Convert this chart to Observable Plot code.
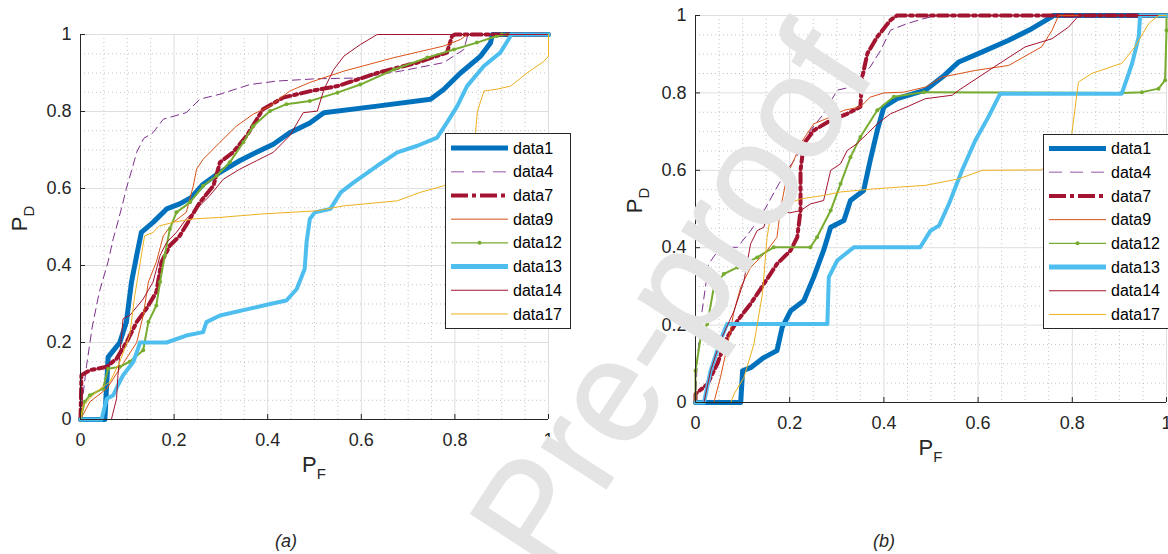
<!DOCTYPE html>
<html><head><meta charset="utf-8">
<script src="https://cdn.jsdelivr.net/npm/d3@7"></script>
<script src="https://cdn.jsdelivr.net/npm/@observablehq/plot@0.6"></script>
<style>
body{margin:0;background:#fff;}
#wrap{position:relative;width:1168px;height:554px;overflow:hidden;font-family:"Liberation Sans",Arial,sans-serif;background:#fff;}
#wrap > svg{position:absolute;top:0;}
</style></head><body><div id="wrap"></div>
<script>
// ---------- data ----------
const seriesNames = ["data1","data4","data7","data9","data12","data13","data14","data17"];
const majorTicks = [0, 0.2, 0.4, 0.6, 0.8, 1];
const tickLabels = ["0","0.2","0.4","0.6","0.8","1"];
const minorTicks = [0.05,0.1,0.15,0.25,0.3,0.35,0.45,0.5,0.55,0.65,0.7,0.75,0.85,0.9,0.95];

// panel (a)
const a_data1 = [[0,0],[0.052,0],[0.059,0.162],[0.084,0.2],[0.098,0.253],[0.109,0.357],[0.12,0.426],[0.13,0.486],[0.155,0.512],[0.184,0.547],[0.212,0.56],[0.237,0.577],[0.262,0.611],[0.298,0.642],[0.34,0.672],[0.376,0.694],[0.412,0.715],[0.447,0.745],[0.49,0.77],[0.52,0.797],[0.634,0.814],[0.748,0.832],[0.776,0.857],[0.812,0.9],[0.855,0.944],[0.876,0.978],[0.88,1],[1,1]];
const a_data4 = [[0,0],[0.005,0.06],[0.013,0.14],[0.025,0.24],[0.04,0.33],[0.059,0.41],[0.07,0.47],[0.077,0.5],[0.09,0.56],[0.098,0.6],[0.11,0.65],[0.12,0.694],[0.135,0.73],[0.155,0.745],[0.177,0.78],[0.226,0.797],[0.255,0.832],[0.298,0.845],[0.362,0.87],[0.419,0.879],[0.504,0.885],[0.591,0.887],[0.684,0.905],[0.776,0.927],[0.819,0.961],[0.828,1],[1,1]];
const a_data7 = [[0,0],[0.002,0.115],[0.02,0.128],[0.056,0.137],[0.077,0.158],[0.098,0.2],[0.12,0.253],[0.141,0.288],[0.162,0.331],[0.173,0.409],[0.191,0.452],[0.212,0.477],[0.234,0.521],[0.255,0.564],[0.284,0.607],[0.298,0.668],[0.326,0.694],[0.355,0.737],[0.39,0.806],[0.433,0.836],[0.491,0.853],[0.549,0.866],[0.634,0.9],[0.72,0.927],[0.783,0.953],[0.794,0.996],[0.8,1],[1,1]];
const a_data9 = [[0,0],[0.02,0.046],[0.056,0.08],[0.084,0.132],[0.12,0.2],[0.134,0.27],[0.145,0.357],[0.162,0.409],[0.177,0.477],[0.198,0.512],[0.226,0.538],[0.241,0.607],[0.248,0.65],[0.262,0.676],[0.298,0.72],[0.333,0.762],[0.369,0.793],[0.405,0.814],[0.447,0.853],[0.491,0.876],[0.563,0.905],[0.67,0.94],[0.776,0.97],[0.812,0.987],[0.826,1],[1,1]];
const a_data12 = [[0,0],[0.009,0.046],[0.02,0.063],[0.048,0.08],[0.059,0.132],[0.084,0.137],[0.105,0.15],[0.134,0.18],[0.137,0.2],[0.145,0.253],[0.162,0.296],[0.17,0.357],[0.18,0.426],[0.191,0.495],[0.205,0.538],[0.234,0.564],[0.262,0.607],[0.291,0.633],[0.319,0.668],[0.348,0.72],[0.369,0.762],[0.405,0.801],[0.44,0.819],[0.49,0.827],[0.549,0.849],[0.598,0.87],[0.67,0.909],[0.741,0.94],[0.798,0.961],[0.847,0.979],[0.89,0.996],[0.9,1],[1,1]];
const a_data13 = [[0,0],[0.045,0],[0.056,0.054],[0.07,0.063],[0.08,0.089],[0.091,0.115],[0.113,0.15],[0.123,0.184],[0.127,0.2],[0.184,0.2],[0.226,0.218],[0.262,0.227],[0.269,0.253],[0.298,0.27],[0.362,0.288],[0.405,0.3],[0.44,0.309],[0.462,0.339],[0.479,0.391],[0.483,0.46],[0.49,0.521],[0.501,0.538],[0.534,0.547],[0.556,0.59],[0.584,0.616],[0.634,0.659],[0.677,0.694],[0.72,0.711],[0.762,0.732],[0.783,0.771],[0.805,0.814],[0.826,0.866],[0.862,0.918],[0.897,0.953],[0.919,0.996],[0.92,1],[1,1]];
const a_data14 = [[0,0],[0.066,0],[0.077,0.054],[0.08,0.115],[0.091,0.262],[0.105,0.27],[0.134,0.313],[0.155,0.357],[0.17,0.426],[0.184,0.46],[0.205,0.486],[0.226,0.521],[0.248,0.547],[0.276,0.581],[0.305,0.624],[0.34,0.65],[0.376,0.672],[0.412,0.694],[0.447,0.737],[0.476,0.797],[0.506,0.801],[0.52,0.857],[0.541,0.909],[0.563,0.944],[0.598,0.974],[0.634,1],[1,1]];
const a_data17 = [[0,0],[0.006,0.037],[0.034,0.072],[0.063,0.098],[0.084,0.15],[0.105,0.218],[0.116,0.322],[0.13,0.426],[0.137,0.477],[0.155,0.486],[0.169,0.503],[0.198,0.512],[0.241,0.521],[0.298,0.525],[0.39,0.534],[0.504,0.542],[0.563,0.555],[0.677,0.568],[0.726,0.59],[0.776,0.607],[0.81,0.64],[0.835,0.69],[0.844,0.745],[0.848,0.8],[0.862,0.853],[0.89,0.858],[0.919,0.866],[0.954,0.9],[0.99,0.93],[1,0.944],[1,1]];

// panel (b)
const b_data1 = [[0,0],[0.096,0],[0.1,0.082],[0.117,0.09],[0.145,0.116],[0.173,0.134],[0.184,0.194],[0.202,0.237],[0.23,0.263],[0.251,0.324],[0.272,0.393],[0.287,0.453],[0.315,0.47],[0.329,0.522],[0.357,0.548],[0.371,0.626],[0.386,0.703],[0.4,0.764],[0.428,0.785],[0.488,0.807],[0.524,0.841],[0.559,0.88],[0.609,0.906],[0.665,0.936],[0.714,0.966],[0.757,0.997],[0.76,1],[1,1]];
const b_data4 = [[0,0],[0.004,0.116],[0.014,0.237],[0.028,0.358],[0.053,0.401],[0.089,0.401],[0.117,0.444],[0.138,0.479],[0.177,0.565],[0.195,0.6],[0.223,0.651],[0.244,0.703],[0.272,0.746],[0.301,0.807],[0.329,0.815],[0.35,0.841],[0.371,0.867],[0.393,0.91],[0.414,0.962],[0.449,0.979],[0.485,0.992],[0.513,1],[1,1]];
const b_data7 = [[0,0],[0,0.022],[0.025,0.047],[0.046,0.099],[0.067,0.168],[0.089,0.211],[0.117,0.255],[0.145,0.306],[0.173,0.358],[0.202,0.393],[0.216,0.427],[0.223,0.496],[0.223,0.6],[0.23,0.669],[0.251,0.703],[0.287,0.729],[0.322,0.746],[0.35,0.764],[0.354,0.841],[0.365,0.902],[0.386,0.945],[0.414,0.988],[0.428,1],[1,1]];
const b_data9 = [[0,0],[0.039,0],[0.053,0.065],[0.067,0.142],[0.082,0.237],[0.096,0.298],[0.117,0.349],[0.138,0.375],[0.152,0.393],[0.173,0.427],[0.18,0.496],[0.195,0.591],[0.209,0.626],[0.223,0.669],[0.251,0.72],[0.287,0.738],[0.315,0.755],[0.35,0.764],[0.371,0.789],[0.4,0.8],[0.442,0.802],[0.488,0.815],[0.524,0.841],[0.594,0.858],[0.665,0.871],[0.735,0.919],[0.757,0.962],[0.771,1],[1,1]];
const b_data12 = [[0,0],[0,0.082],[0.011,0.168],[0.025,0.203],[0.039,0.298],[0.06,0.332],[0.089,0.349],[0.131,0.375],[0.166,0.401],[0.244,0.401],[0.258,0.427],[0.287,0.496],[0.308,0.565],[0.329,0.634],[0.35,0.686],[0.386,0.755],[0.421,0.79],[0.485,0.802],[0.905,0.8],[0.948,0.802],[0.983,0.811],[0.997,0.833],[1,0.962],[1,1]];
const b_data13 = [[0,0],[0.018,0],[0.032,0.082],[0.053,0.16],[0.067,0.203],[0.28,0.203],[0.283,0.324],[0.301,0.367],[0.336,0.401],[0.477,0.401],[0.499,0.444],[0.517,0.457],[0.538,0.513],[0.566,0.6],[0.594,0.677],[0.622,0.738],[0.647,0.798],[0.905,0.798],[0.927,0.876],[0.941,0.945],[0.944,1],[1,1]];
const b_data14 = [[0,0],[0.018,0],[0.032,0.082],[0.053,0.16],[0.082,0.237],[0.103,0.315],[0.117,0.41],[0.131,0.444],[0.145,0.453],[0.152,0.479],[0.18,0.496],[0.2,0.49],[0.223,0.496],[0.244,0.513],[0.272,0.522],[0.287,0.6],[0.308,0.617],[0.322,0.651],[0.343,0.669],[0.365,0.695],[0.386,0.72],[0.414,0.746],[0.449,0.764],[0.488,0.785],[0.545,0.794],[0.559,0.807],[0.629,0.863],[0.7,0.919],[0.757,0.94],[0.792,0.97],[0.814,1],[1,1]];
const b_data17 = [[0,0],[0.075,0],[0.082,0.022],[0.103,0.065],[0.124,0.151],[0.142,0.28],[0.152,0.427],[0.159,0.479],[0.177,0.505],[0.223,0.526],[0.272,0.535],[0.308,0.544],[0.379,0.552],[0.449,0.558],[0.488,0.561],[0.559,0.578],[0.609,0.6],[0.735,0.601],[0.77,0.65],[0.799,0.695],[0.813,0.828],[0.841,0.85],[0.891,0.871],[0.905,0.876],[0.933,0.919],[0.962,0.979],[0.983,1],[1,1]];

const panelA = {data1:a_data1,data4:a_data4,data7:a_data7,data9:a_data9,data12:a_data12,data13:a_data13,data14:a_data14,data17:a_data17};
const panelB = {data1:b_data1,data4:b_data4,data7:b_data7,data9:b_data9,data12:b_data12,data13:b_data13,data14:b_data14,data17:b_data17};

// ---------- styles ----------
const styles = {
  data1:  {color:"#0072BD", width:5},
  data4:  {color:"#7E2F8E", width:1, dash:"8,5", legendColor:"#b98fc6", legendDash:"13,8", legendWidth:1.5},
  data7:  {color:"#A2142F", width:4, dash:"10,4,3,4", legendDash:"17,4,4,4"},
  data9:  {color:"#D95319", width:1},
  data12: {color:"#77AC30", width:2, dots:true, legendWidth:1.2},
  data13: {color:"#4DBEEE", width:4, legendWidth:5},
  data14: {color:"#A2142F", width:1},
  data17: {color:"#EDB120", width:1}
};
const ink = "#262626";
const wrap = document.getElementById("wrap");

function makePanel(series, o) {
  const plotH = o.height - o.mt - o.mb;
  const tickLen = 5 / plotH;
  const tickLenX = 5 / (o.width - o.ml - o.mr);
  const marks = [
    Plot.ruleX(minorTicks, {stroke:"#c4c4c4", strokeDasharray:"1,3", strokeWidth:1}),
    Plot.ruleY(minorTicks, {stroke:"#c4c4c4", strokeDasharray:"1,3", strokeWidth:1}),
    Plot.ruleX(majorTicks.slice(1), {stroke:"#dedede", strokeWidth:1}),
    Plot.ruleY(majorTicks.slice(1), {stroke:"#dedede", strokeWidth:1})
  ];
  for (const n of seriesNames) {
    const st = styles[n];
    marks.push(Plot.line(series[n], {x: d => d[0], y: d => d[1], stroke: st.color, strokeWidth: st.width,
      strokeDasharray: st.dash, strokeLinejoin: "round"}));
    if (st.dots) marks.push(Plot.dot(series[n], {x: d => d[0], y: d => d[1], r: 2, fill: st.color}));
  }
  marks.push(
    Plot.ruleX([0], {stroke: ink, strokeWidth: 1}),
    Plot.ruleY([0], {stroke: ink, strokeWidth: 1}),
    Plot.ruleX(majorTicks, {y1: 0, y2: tickLen, stroke: ink}),
    Plot.ruleY(majorTicks, {x1: 0, x2: tickLenX, stroke: ink}),
    Plot.axisX({ticks: majorTicks, tickSize: 0, tickPadding: 14, fontSize: 18, fill: ink, label: null,
      tickFormat: (d, i) => tickLabels[i]}),
    Plot.axisY({ticks: majorTicks, tickSize: 0, tickPadding: 9, fontSize: 18, fill: ink, label: null,
      tickFormat: (d, i) => tickLabels[i]})
  );
  const svg = Plot.plot({
    width: o.width, height: o.height,
    marginLeft: o.ml, marginRight: o.mr, marginTop: o.mt, marginBottom: o.mb,
    x: {domain: [0, 1]}, y: {domain: [0, 1]},
    style: {fontFamily: '"Liberation Sans", Arial, sans-serif', background: "transparent", color: ink, overflow: "visible"},
    marks
  });
  svg.style.left = o.left + "px";
  const sx = svg.scale("x"), sy = svg.scale("y");
  const s = d3.select(svg);
  const cx = (sx.range[0] + sx.range[1]) / 2;
  const cy = (sy.range[0] + sy.range[1]) / 2;
  const xl = s.append("text").attr("x", cx).attr("y", sy.range[0] + 53).attr("text-anchor", "middle")
    .attr("fill", ink).attr("font-size", 22);
  xl.append("tspan").text("P");
  xl.append("tspan").attr("font-size", 15).attr("dy", 7).text("F");
  const yl = s.append("text").attr("transform", `translate(${sx.range[0] - 53},${cy - 8}) rotate(-90)`)
    .attr("text-anchor", "middle").attr("fill", ink).attr("font-size", 22);
  yl.append("tspan").text("P");
  yl.append("tspan").attr("font-size", 15).attr("dy", 7).text("D");
  wrap.appendChild(svg);
}

makePanel(panelA, {left: 0, width: 584, height: 480, ml: 80, mr: 36, mt: 34, mb: 61});
makePanel(panelB, {left: 584, width: 584, height: 480, ml: 111, mr: 2, mt: 15, mb: 78});

// ---------- legends ----------
function makeLegend(left, top, w, h) {
  const svg = d3.create("svg").attr("width", w).attr("height", h)
    .style("position", "absolute").style("left", left + "px").style("top", top + "px");
  svg.append("rect").attr("x", 0.5).attr("y", 0.5).attr("width", w - 1).attr("height", h - 1)
    .attr("fill", "#fff").attr("stroke", ink);
  const step = 23.7, y0 = (h - step * 7) / 2;
  seriesNames.forEach((n, i) => {
    const st = styles[n], y = y0 + i * step;
    svg.append("line").attr("x1", 6).attr("x2", 63).attr("y1", y).attr("y2", y)
      .attr("stroke", st.legendColor || st.color)
      .attr("stroke-width", st.legendWidth || st.width)
      .attr("stroke-dasharray", st.legendDash || null);
    if (st.dots) svg.append("circle").attr("cx", 34.5).attr("cy", y).attr("r", 2).attr("fill", st.color);
    svg.append("text").attr("x", 68).attr("y", y).attr("dy", "0.35em").attr("font-size", 16)
      .attr("fill", "#000").attr("font-family", '"Liberation Sans", Arial, sans-serif').text(n);
  });
  wrap.appendChild(svg.node());
}
makeLegend(445, 133, 126, 196);
makeLegend(1043, 134, 135, 195);

// ---------- overlay: captions and watermark ----------
const ov = d3.create("svg").attr("width", 1168).attr("height", 554)
  .style("position", "absolute").style("left", "0px").style("top", "0px").style("pointer-events", "none");
const wm = ov.append("g").attr("transform", "translate(548,578) rotate(-57)")
  .attr("font-family", '"Liberation Sans", Arial, sans-serif').attr("font-size", 145)
  .attr("fill", "#e4e4e4").attr("stroke", "#e4e4e4").attr("stroke-width", 1.5).attr("stroke-linejoin", "round");
wm.append("text").attr("x", 0).attr("y", 0).text("Pre-proof");
ov.append("text").attr("x", 286).attr("y", 547).attr("text-anchor", "middle").attr("font-style", "italic")
  .attr("font-size", 18).attr("fill", ink).attr("font-family", '"Liberation Sans", Arial, sans-serif').text("(a)");
ov.append("text").attr("x", 884).attr("y", 547).attr("text-anchor", "middle").attr("font-style", "italic")
  .attr("font-size", 18).attr("fill", ink).attr("font-family", '"Liberation Sans", Arial, sans-serif').text("(b)");
wrap.appendChild(ov.node());
</script></body></html>
